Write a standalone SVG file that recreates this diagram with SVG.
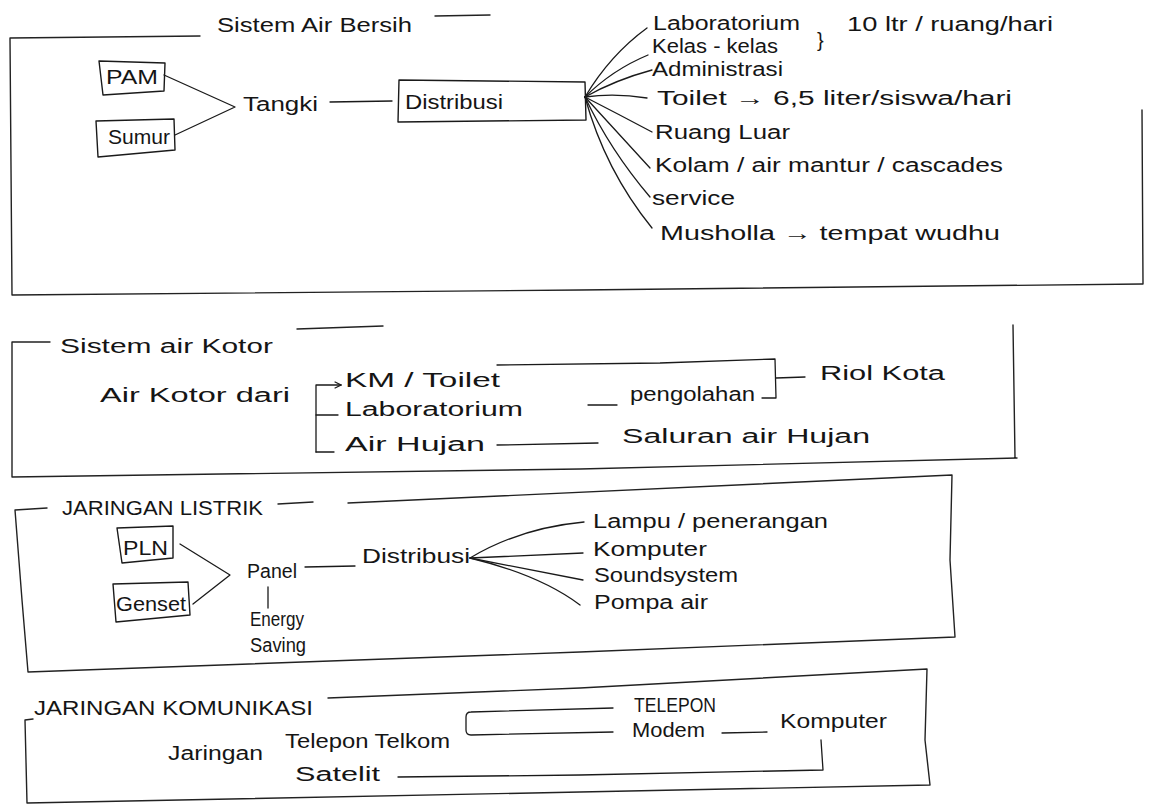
<svg xmlns="http://www.w3.org/2000/svg" width="1154" height="806" viewBox="0 0 1154 806">
<style>
.t{font-family:"Liberation Sans",Arial,sans-serif;fill:#151515;font-size:20px}
.ln{fill:none;stroke:#1a1a1a;stroke-width:1.3;stroke-linecap:round;stroke-linejoin:round}
.fr{fill:none;stroke:#222;stroke-width:1.4;stroke-linecap:round;stroke-linejoin:round}
.bx{fill:none;stroke:#1a1a1a;stroke-width:1.4;stroke-linejoin:round}
</style>
<defs>
<marker id="ah" viewBox="0 0 10 10" refX="9" refY="5" markerWidth="8" markerHeight="8" markerUnits="userSpaceOnUse" orient="auto">
<path d="M1,1 L9,5 L1,9" fill="none" stroke="#1a1a1a" stroke-width="1.4"/>
</marker>
</defs>
<rect width="1154" height="806" fill="#ffffff"/>

<!-- Frames -->
<g id="frame-air-bersih">
<path class="fr" d="M10,38 L200,36 M435,16 L490,15 M10,38 L12,295 L580,290 L1142,284 M1142,110 L1143,284"/>
<text class="t" x="217" y="32" font-size="22" textLength="195" lengthAdjust="spacingAndGlyphs">Sistem Air Bersih</text>
</g>
<g id="frame-air-kotor">
<path class="fr" d="M12,342 L50,342 M297,329 L383,326 M12,342 L12,477 L580,469 L1017,458 M1013,325 L1015,458"/>
<text class="t" x="60" y="353" font-size="22" textLength="213" lengthAdjust="spacingAndGlyphs">Sistem air Kotor</text>
</g>
<g id="frame-listrik">
<path class="fr" d="M15,510 L47,508 M278,504 L313,502 M348,503 L952,475 L950,560 L955,637 L580,652 L28,672 L22,600 L15,510"/>
<text class="t" x="62" y="515" font-size="18" textLength="201" lengthAdjust="spacingAndGlyphs">JARINGAN LISTRIK</text>
</g>
<g id="frame-komunikasi">
<path class="fr" d="M25,720 L33,719 M328,698 L580,688 L927,669 L925,740 L930,785 L580,792 L27,803 L25,720"/>
<text class="t" x="34" y="715" font-size="18" textLength="279" lengthAdjust="spacingAndGlyphs">JARINGAN KOMUNIKASI</text>
</g>

<!-- Connectors -->
<g id="connectors">
<path class="ln" d="M164,75 L235,107 L175,135"/>
<path class="ln" d="M330,102 L392,101"/>
<path class="ln" d="M585,97 Q610,55 647,28"/>
<path class="ln" d="M585,97 Q612,70 648,55"/>
<path class="ln" d="M585,97 Q615,80 652,70"/>
<path class="ln" d="M585,97 Q615,93 647,98"/>
<path class="ln" d="M585,97 Q620,115 652,132"/>
<path class="ln" d="M585,97 Q615,130 650,168"/>
<path class="ln" d="M585,97 Q610,150 650,197"/>
<path class="ln" d="M585,97 Q605,170 652,228"/>

<path class="ln" d="M316,452 L316,385 L341,385" marker-end="url(#ah)"/>
<path class="ln" d="M316,415 L338,415 M316,452 L334,452"/>
<path class="ln" d="M497,365 L660,363 L775,359 L776,398 L762,398 M776,378 L805,377"/>
<path class="ln" d="M588,405 L617,405"/>
<path class="ln" d="M497,445 L598,443"/>

<path class="ln" d="M180,544 L230,575 L193,604"/>
<path class="ln" d="M305,567 L355,566"/>
<path class="ln" d="M268,587 L268,608"/>
<path class="ln" d="M470,558 Q520,528 584,522"/>
<path class="ln" d="M470,558 L583,553"/>
<path class="ln" d="M470,558 L583,580"/>
<path class="ln" d="M470,558 Q540,575 580,605"/>

<path class="ln" d="M613,708 L471,712 Q466,712 466,717 L466,730 Q466,735 471,735 L613,732"/>
<path class="ln" d="M722,733 L767,732"/>
<path class="ln" d="M398,777 L580,775 L823,770 L821,740"/>
</g>

<!-- Sistem Air Bersih nodes -->
<g id="pam"><path class="bx" d="M99,61 L165,63 L164,91 L103,95 Z"/><text class="t" x="106" y="84" font-size="21" textLength="52" lengthAdjust="spacingAndGlyphs">PAM</text></g>
<g id="sumur"><path class="bx" d="M96,121 L174,119 L175,150 L98,157 Z"/><text class="t" x="108" y="144" textLength="62" lengthAdjust="spacingAndGlyphs">Sumur</text></g>
<g id="tangki"><text class="t" x="243" y="111" font-size="21" textLength="75" lengthAdjust="spacingAndGlyphs">Tangki</text></g>
<g id="distribusi1"><path class="bx" d="M399,80 L585,82 L586,120 L398,122 Z"/><text class="t" x="405" y="109" font-size="21" textLength="98" lengthAdjust="spacingAndGlyphs">Distribusi</text></g>
<g id="laboratorium1"><text class="t" x="653" y="30" font-size="21" textLength="147" lengthAdjust="spacingAndGlyphs">Laboratorium</text></g>
<g id="kebutuhan-ruang"><text class="t" x="817" y="47" font-size="30">}</text><text class="t" x="847" y="31" font-size="19" textLength="206" lengthAdjust="spacingAndGlyphs">10 ltr / ruang/hari</text></g>
<g id="kelas"><text class="t" x="652" y="53" textLength="126" lengthAdjust="spacingAndGlyphs">Kelas - kelas</text></g>
<g id="administrasi"><text class="t" x="652" y="76" textLength="131" lengthAdjust="spacingAndGlyphs">Administrasi</text></g>
<g id="toilet1"><text class="t" x="657" y="105" font-size="21" textLength="355" lengthAdjust="spacingAndGlyphs">Toilet → 6,5 liter/siswa/hari</text></g>
<g id="ruang-luar"><text class="t" x="655" y="139" font-size="21" textLength="135" lengthAdjust="spacingAndGlyphs">Ruang Luar</text></g>
<g id="kolam"><text class="t" x="655" y="172" font-size="21" textLength="348" lengthAdjust="spacingAndGlyphs">Kolam / air mantur / cascades</text></g>
<g id="service"><text class="t" x="652" y="205" font-size="21" textLength="83" lengthAdjust="spacingAndGlyphs">service</text></g>
<g id="musholla"><text class="t" x="660" y="240" font-size="22" textLength="340" lengthAdjust="spacingAndGlyphs">Musholla → tempat wudhu</text></g>

<!-- Sistem air Kotor nodes -->
<g id="air-kotor-dari"><text class="t" x="100" y="402" font-size="23" textLength="190" lengthAdjust="spacingAndGlyphs">Air Kotor dari</text></g>
<g id="km-toilet"><text class="t" x="345" y="387" textLength="155" lengthAdjust="spacingAndGlyphs">KM / Toilet</text></g>
<g id="laboratorium2"><text class="t" x="345" y="416" textLength="178" lengthAdjust="spacingAndGlyphs">Laboratorium</text></g>
<g id="air-hujan"><text class="t" x="345" y="451" font-size="21" textLength="140" lengthAdjust="spacingAndGlyphs">Air Hujan</text></g>
<g id="pengolahan"><text class="t" x="630" y="401" textLength="125" lengthAdjust="spacingAndGlyphs">pengolahan</text></g>
<g id="riol-kota"><text class="t" x="820" y="380" textLength="125" lengthAdjust="spacingAndGlyphs">Riol Kota</text></g>
<g id="saluran"><text class="t" x="622" y="443" font-size="22" textLength="248" lengthAdjust="spacingAndGlyphs">Saluran air Hujan</text></g>

<!-- Jaringan Listrik nodes -->
<g id="pln"><path class="bx" d="M117,528 L173,526 L173,558 L122,563 Z"/><text class="t" x="123" y="555" textLength="45" lengthAdjust="spacingAndGlyphs">PLN</text></g>
<g id="genset"><path class="bx" d="M113,584 L188,582 L190,615 L116,622 Z"/><text class="t" x="116" y="611" textLength="70" lengthAdjust="spacingAndGlyphs">Genset</text></g>
<g id="panel"><text class="t" x="247" y="578" font-size="21" textLength="50" lengthAdjust="spacingAndGlyphs">Panel</text></g>
<g id="energy-saving"><text class="t" x="250" y="626" font-size="14" textLength="54" lengthAdjust="spacingAndGlyphs">Energy</text><text class="t" x="250" y="652" font-size="15" textLength="56" lengthAdjust="spacingAndGlyphs">Saving</text></g>
<g id="distribusi2"><text class="t" x="362" y="563" textLength="108" lengthAdjust="spacingAndGlyphs">Distribusi</text></g>
<g id="lampu"><text class="t" x="593" y="528" textLength="235" lengthAdjust="spacingAndGlyphs">Lampu / penerangan</text></g>
<g id="komputer1"><text class="t" x="593" y="556" textLength="114" lengthAdjust="spacingAndGlyphs">Komputer</text></g>
<g id="soundsystem"><text class="t" x="594" y="582" textLength="144" lengthAdjust="spacingAndGlyphs">Soundsystem</text></g>
<g id="pompa-air"><text class="t" x="594" y="609" textLength="114" lengthAdjust="spacingAndGlyphs">Pompa air</text></g>

<!-- Jaringan Komunikasi nodes -->
<g id="jaringan"><text class="t" x="168" y="760" font-size="19" textLength="95" lengthAdjust="spacingAndGlyphs">Jaringan</text></g>
<g id="telepon-telkom"><text class="t" x="285" y="748" font-size="19" textLength="165" lengthAdjust="spacingAndGlyphs">Telepon Telkom</text></g>
<g id="satelit"><text class="t" x="295" y="781" font-size="18" textLength="85" lengthAdjust="spacingAndGlyphs">Satelit</text></g>
<g id="telepon"><text class="t" x="634" y="712" font-size="15" textLength="82" lengthAdjust="spacingAndGlyphs">TELEPON</text></g>
<g id="modem"><text class="t" x="632" y="737" font-size="17" textLength="73" lengthAdjust="spacingAndGlyphs">Modem</text></g>
<g id="komputer2"><text class="t" x="780" y="728" textLength="107" lengthAdjust="spacingAndGlyphs">Komputer</text></g>
</svg>
